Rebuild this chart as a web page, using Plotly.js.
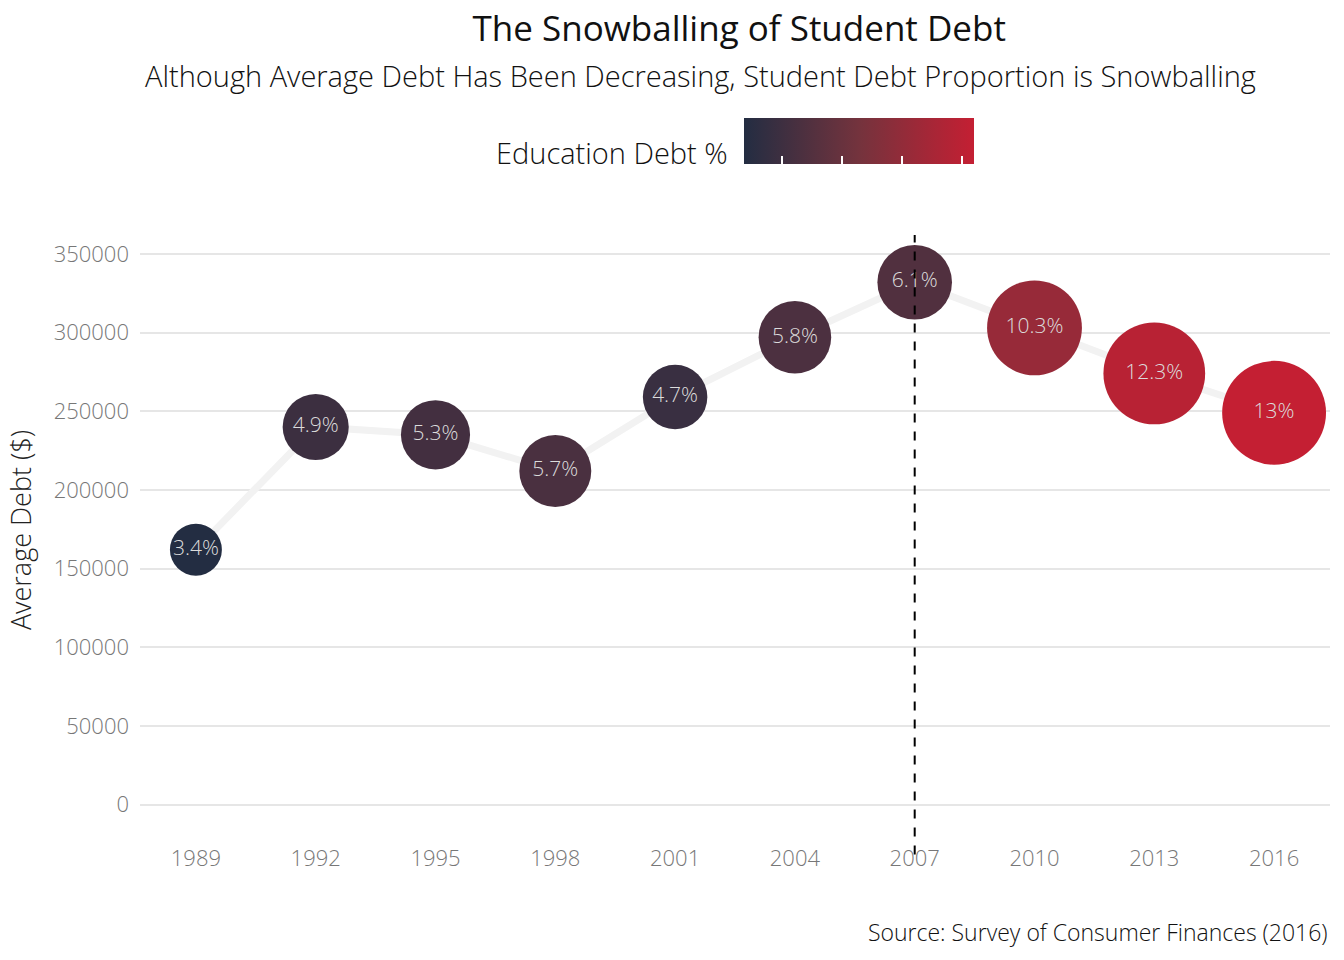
<!DOCTYPE html><html><head><script src="https://cdn.plot.ly/plotly-3.0.1.min.js"></script>
<style>body{margin:0}</style></head><body><div id="c" style="width:1344px;height:960px"></div><script>
const years=[1989,1992,1995,1998,2001,2004,2007,2010,2013,2016];
const avgDebt=[162000,240000,235000,212000,259000,297000,332000,303000,274000,249000];
const eduPct=[3.4,4.9,5.3,5.7,4.7,5.8,6.1,10.3,12.3,13];
const labels=["3.4%","4.9%","5.3%","5.7%","4.7%","5.8%","6.1%","10.3%","12.3%","13%"];
const F="Open Sans";
const sizes=eduPct.map(p=>4.6+38.7*Math.log(p));
const traces=[
{x:years,y:avgDebt,mode:'lines',line:{color:'#f2f2f2',width:7},hoverinfo:'skip',showlegend:false},
{x:years,y:avgDebt,mode:'markers+text',text:labels,textposition:'middle center',
 textfont:{family:F,size:21,color:'#dcdcdc',weight:300},showlegend:false,
 marker:{size:sizes,color:eduPct,cmin:3.4,cmax:13,opacity:1,line:{width:0},
  colorscale:[[0,'#232d42'],[0.5,'#74333d'],[1,'#c41f33']],
  colorbar:{orientation:'h',x:(744-140)/1190,xanchor:'left',y:(235-145)/590+1,yanchor:'middle',yref:'paper',
   len:230,lenmode:'pixels',xpad:0,ypad:0,thickness:46,outlinewidth:0,showticklabels:false,
   tickvals:[5,7.5,10,12.5],ticks:'inside',ticklen:8,tickcolor:'#fff',tickwidth:1.5}}}
];
const layout={width:1344,height:960,margin:{l:140,r:14,t:235,b:135},
paper_bgcolor:'#fff',plot_bgcolor:'#fff',font:{family:F,color:'#222'},
title:{text:'The Snowballing of Student Debt',x:0.55,xanchor:'center',y:1-29/960,yanchor:'middle',font:{family:F,size:35,color:'#111',weight:400}},
xaxis:{range:[1987.6,2017.4],tickvals:years,showgrid:false,zeroline:false,showline:false,
 tickfont:{family:F,size:22,color:'#777',weight:300},ticks:'',ticklabelstandoff:18},
yaxis:{range:[-13000,362000],tickvals:[0,50000,100000,150000,200000,250000,300000,350000],tickformat:'d',
 gridcolor:'#e6e6e6',gridwidth:1.5,zeroline:false,tickfont:{family:F,size:22,color:'#777',weight:300},ticklabelstandoff:10,
 title:{text:'Average Debt ($)',font:{family:F,size:27,color:'#222',weight:300},standoff:14}},
shapes:[{type:'line',x0:2007,x1:2007,xref:'x',yref:'paper',y0:-0.05,y1:1,line:{color:'#000',width:2,dash:'dash'}}],
annotations:[
{text:'Although Average Debt Has Been Decreasing, Student Debt Proportion is Snowballing',xref:'paper',yref:'paper',x:(700-140)/1190,y:(235-76)/590+1,xanchor:'center',yanchor:'middle',showarrow:false,font:{family:F,size:29,color:'#111',weight:300}},
{text:'Education Debt %',xref:'paper',yref:'paper',x:(730-140)/1190,xanchor:'right',y:(235-152)/590+1,yanchor:'middle',showarrow:false,font:{family:F,size:29,color:'#111',weight:300}},
{text:'Source: Survey of Consumer Finances (2016)',xref:'paper',yref:'paper',x:1,xanchor:'right',y:-(932-825)/590,yanchor:'middle',showarrow:false,font:{family:F,size:23,color:'#111',weight:300}}
]};
Plotly.newPlot('c',traces,layout,{displayModeBar:false});
</script></body></html>
